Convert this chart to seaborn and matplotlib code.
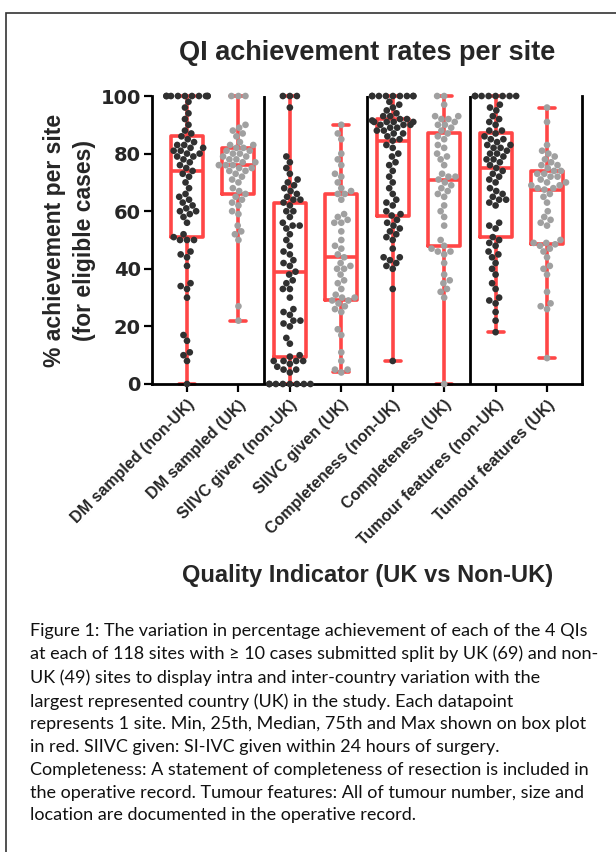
import warnings
import numpy as np
import pandas as pd
import matplotlib
matplotlib.use("Agg")
import matplotlib.pyplot as plt
from matplotlib.patches import Rectangle
import seaborn as sns

warnings.filterwarnings("ignore")

# quality indicators, non-UK / UK pairs
categories = [
    "DM sampled (non-UK)", "DM sampled (UK)",
    "SIIVC given (non-UK)", "SIIVC given (UK)",
    "Completeness (non-UK)", "Completeness (UK)",
    "Tumour features (non-UK)", "Tumour features (UK)",
]

# % achievement per site, read off the swarm (69 non-UK / 49 UK sites)
dm_non_uk = [0, 8, 10, 11, 15, 17, 30, 33, 34, 35, 41, 44, 45, 46, 50, 50, 50, 51,
             52, 56, 58, 59, 60, 60, 61, 62, 63, 64, 65, 66, 68, 70, 72, 73, 74,
             75, 76, 77, 78, 79, 79, 80, 80, 81, 81, 82, 82, 83, 83, 84, 85,
             86, 87, 88, 90, 92, 94, 96, 98] + [100] * 10
dm_uk = [22, 27, 50, 52, 53, 55, 59, 60, 62, 63, 64, 65, 66,
         67, 68, 70, 71, 72, 73, 74, 74, 75, 75, 76, 76,
         76, 77, 77, 78, 78, 79, 79, 80, 80, 81, 81,
         82, 82, 83, 83, 84, 86, 87, 88, 89, 90, 100, 100, 100]
siivc_non_uk = [0] * 8 + [4, 5, 5, 6, 7, 8, 8, 8, 8, 9.5,
                10, 14, 16, 20, 21, 22, 22, 24, 25, 26, 30, 33, 33, 35, 36, 38, 39,
                41, 42, 43, 45, 46, 48, 50, 52, 54, 55, 55, 56, 58, 60, 60, 62,
                63, 64, 64, 65, 66, 67, 68, 69, 70, 71, 73, 75, 77, 79, 96, 100, 100, 100]
siivc_uk = [4, 5, 5, 8, 11, 17, 19, 25, 26, 27, 28, 29, 29,
            30, 30, 31, 33, 35, 36, 38, 40, 40, 41, 42, 44,
            45, 47, 48, 50, 53, 56, 56, 57, 58, 59, 64,
            66, 66, 67, 68, 70, 72, 73, 76, 78, 80, 85, 87, 90]
compl_non_uk = [8, 33, 40, 41, 42, 43, 44, 44, 47, 50, 51, 52, 53, 54, 55, 56, 57, 58.5,
                59, 60, 62, 63, 64, 66, 68, 70, 72, 74, 76, 77, 79, 80, 82, 83, 84.5,
                85, 86, 87, 87, 88, 88, 89, 89, 90, 90, 90, 91, 91, 91, 91, 91.5,
                92, 92, 93, 93, 94, 95, 96, 97, 98] + [100] * 9
compl_uk = [0, 30, 32, 33, 35, 36, 38, 42, 45, 46, 46, 47, 48,
            50, 55, 58, 60, 62, 65, 66, 67, 68, 69, 70, 71,
            72, 72, 73, 76, 78, 79, 80, 82, 83, 85, 86,
            87, 88, 89, 90, 90, 91, 92, 92, 93, 93, 97, 100, 100]
tumour_non_uk = [18, 22, 25, 28, 29, 30, 33, 35, 38, 40, 42, 44, 45, 46, 48, 49, 50, 51,
                 54, 55, 56, 62, 63, 64, 64, 65, 66, 67, 68, 70, 71, 72, 73, 74, 75,
                 76, 77, 78, 78, 79, 80, 80, 81, 82, 82, 83, 83, 84, 85, 85, 86,
                 87, 88, 88, 90, 91, 92, 93, 95, 96, 97] + [100] * 8
tumour_uk = [9, 26, 27, 28, 32, 38, 40, 41, 44, 46, 47, 48, 48.5,
             49, 49, 50, 55, 56, 57, 58, 60, 63, 65, 66, 67.5,
             68, 68, 69, 69, 70, 70, 71, 72, 72, 73, 73,
             74, 74, 75, 76, 76, 77, 78, 79, 80, 81, 83, 91, 96]

series = [dm_non_uk, dm_uk, siivc_non_uk, siivc_uk,
          compl_non_uk, compl_uk, tumour_non_uk, tumour_uk]

caption_lines = [
    "Figure 1: The variation in percentage achievement of each of the 4 QIs",
    "at each of 118 sites with \u2265 10 cases submitted split by UK (69) and non-",
    "UK (49) sites to display intra and inter-country variation with the",
    "largest represented country (UK) in the study. Each datapoint",
    "represents 1 site. Min, 25th, Median, 75th and Max shown on box plot",
    "in red. SIIVC given: SI-IVC given within 24 hours of surgery.",
    "Completeness: A statement of completeness of resection is included in",
    "the operative record. Tumour features: All of tumour number, size and",
    "location are documented in the operative record.",
]

df = pd.DataFrame({
    "qi": np.repeat(categories, [len(s) for s in series]),
    "pct": np.concatenate(series),
})

RED = "#ff4646"
DARK = "#303030"
GREY = "#a0a0a0"
palette = {c: (DARK if "non-UK" in c else GREY) for c in categories}

sns.set_style("ticks")
plt.rcParams["font.family"] = ["Liberation Sans", "DejaVu Sans"]

fig = plt.figure(figsize=(6.16, 8.52), dpi=100)
ax = fig.add_axes([0.2468, 0.5493, 0.698, 0.338])

sns.boxplot(data=df, x="qi", y="pct", order=categories, whis=(0, 100),
            width=0.62, fill=False, color=RED, linewidth=2.6,
            showfliers=False, ax=ax)
sns.swarmplot(data=df, x="qi", y="pct", order=categories, hue="qi",
              palette=palette, size=4.8, legend=False, zorder=3,
              clip_on=False, ax=ax)

for line in ax.lines:
    line.set_clip_on(False)
for patch in ax.patches:
    patch.set_clip_on(False)

# separators between the QI pairs
for xpos in [1.5, 3.5, 5.5]:
    ax.axvline(xpos, color="black", lw=2, zorder=0)

ax.set_xlim(-0.68, 7.68)
ax.set_ylim(0, 100)
ax.set_yticks([0, 20, 40, 60, 80, 100])
sns.despine(ax=ax, top=True, right=False)
for side in ["left", "bottom", "right"]:
    ax.spines[side].set_linewidth(2)
    ax.spines[side].set_color("black")

ax.tick_params(axis="both", length=6, width=1.6, color="black")
ax.tick_params(axis="y", labelsize=14, pad=2)
for lab in ax.get_yticklabels():
    lab.set_family("DejaVu Sans")
    lab.set_fontweight("bold")
ax.set_xticks(range(len(categories)))
ax.set_xticklabels(categories, rotation=45, ha="right", rotation_mode="anchor",
                   fontsize=11.5, fontweight="bold")

ax.set_xlabel("")
ax.set_ylabel("% achievement per site\n(for eligible cases)", fontsize=16.5,
              fontweight="bold", linespacing=1.4)
ax.yaxis.set_label_coords(-0.13, 0.5)

fig.text(0.596, 0.938, "QI achievement rates per site", ha="center", va="center",
         fontsize=19.5, fontweight="bold")
fig.text(0.597, 0.325, "Quality Indicator (UK vs Non-UK)", ha="center",
         va="center", fontsize=17, fontweight="bold")

fig.text(30 / 616, 0.269, "\n".join(caption_lines), ha="left", va="top",
         fontsize=13, family=["Lato", "DejaVu Sans"], linespacing=1.52,
         color="#111111")

fig.patches.append(Rectangle((6 / 616, -0.05), 1.2, 0.05 + 1 - 13 / 852,
                             transform=fig.transFigure, fill=False,
                             edgecolor="#333333", lw=1.2))

fig.savefig("out.png", dpi=100)
